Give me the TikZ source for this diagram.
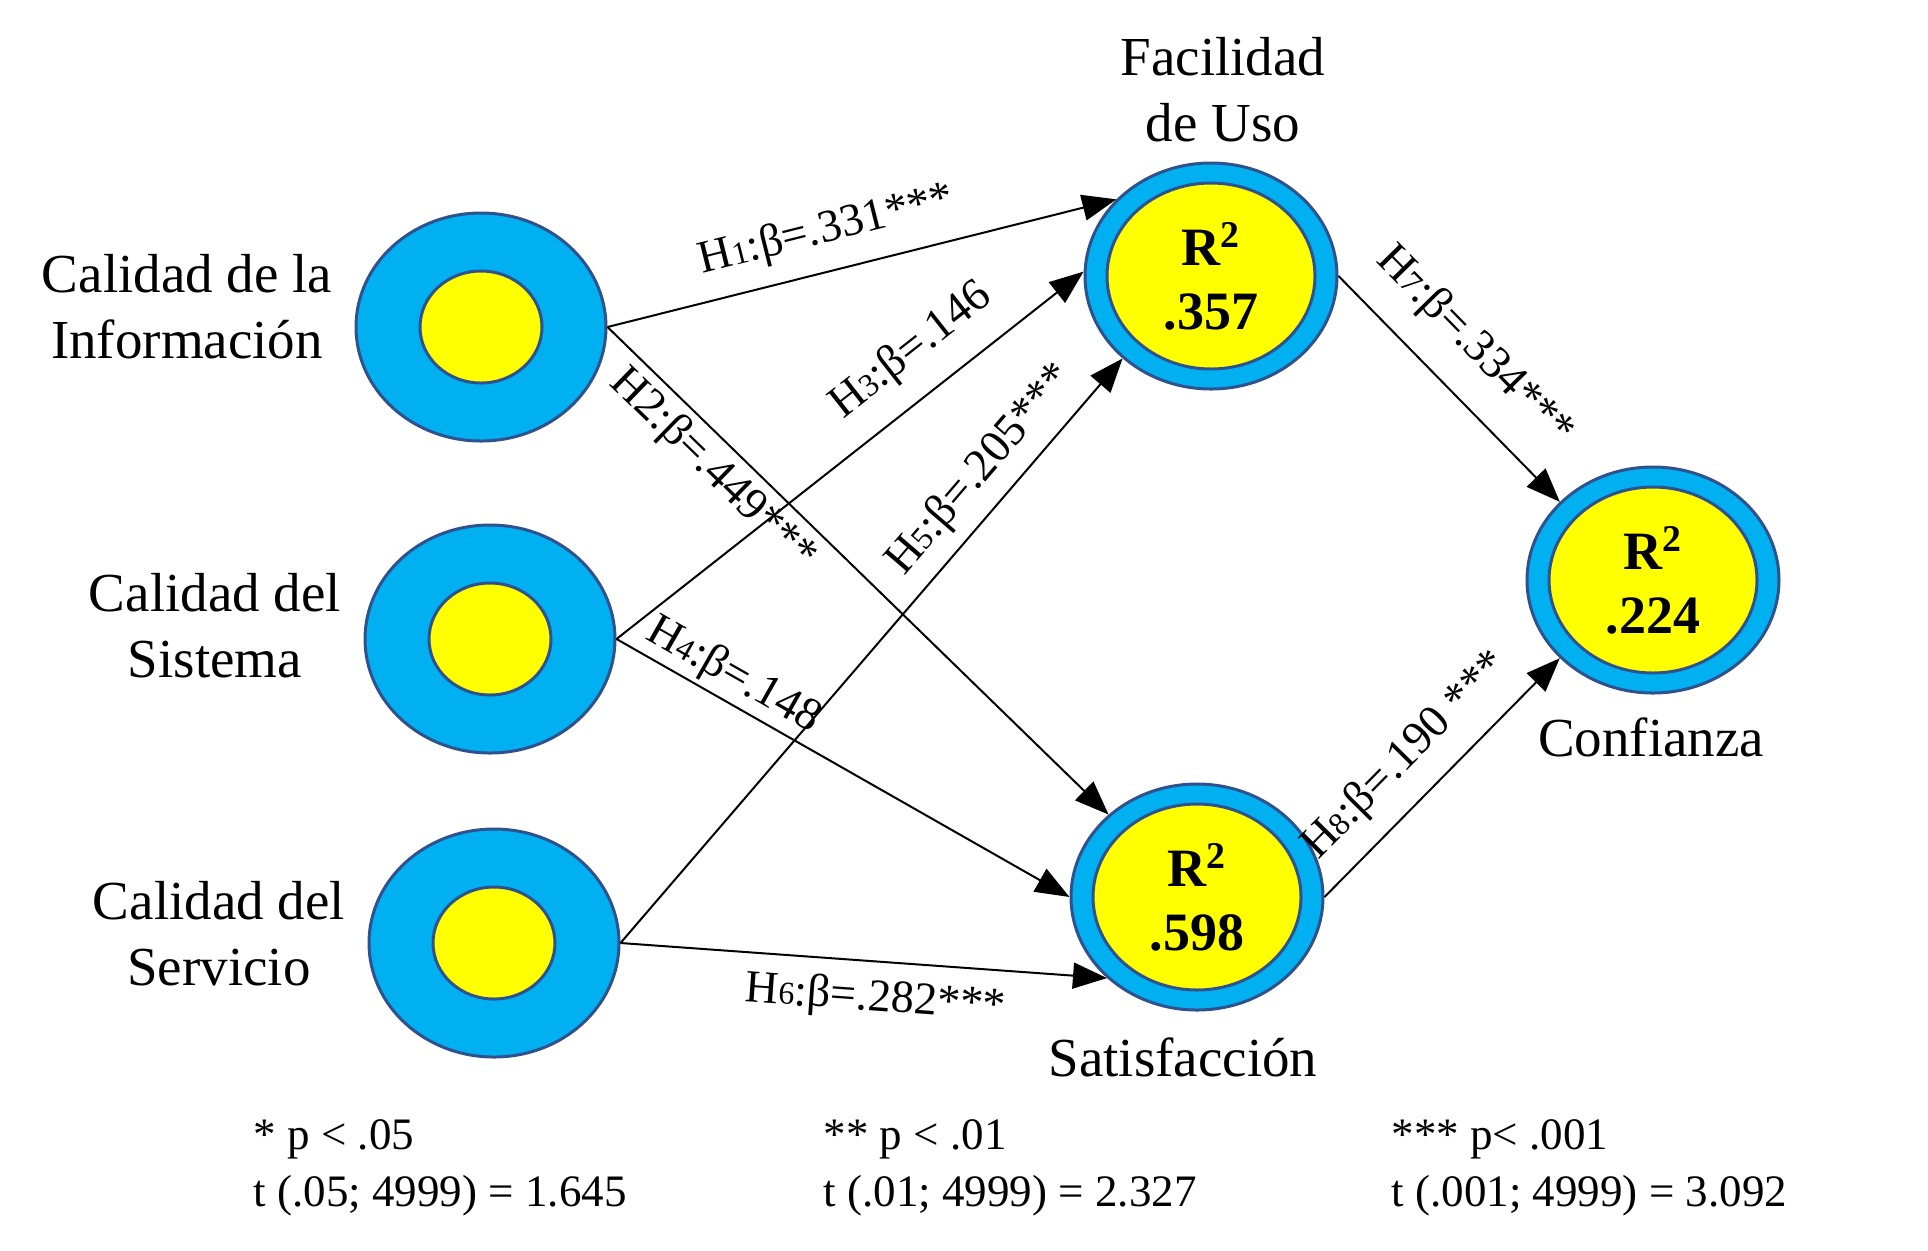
\documentclass[tikz,border=0pt]{standalone}
\usepackage{fontspec}
\setmainfont{Liberation Serif}
\usetikzlibrary{arrows.meta,shapes.geometric}
\definecolor{ringblue}{RGB}{0,176,240}
\definecolor{edgeblue}{RGB}{47,82,143}
\definecolor{coreyellow}{RGB}{255,255,0}
\newcommand{\hyp}[1]{H{\fontsize{16}{16}\selectfont #1}}

\begin{document}
\begin{tikzpicture}[x=0.5pt,y=-0.5pt,>={Triangle[length=17pt,width=13pt]},line width=1pt]
    \tikzstyle{ring}=[ellipse,draw=edgeblue,line width=1.5pt,fill=ringblue,inner sep=0pt,minimum width=125pt,minimum height=114pt]
    \tikzstyle{core}=[ellipse,draw=edgeblue,line width=1.5pt,fill=coreyellow,inner sep=0pt,minimum width=61pt,minimum height=56pt]
    \tikzstyle{rring}=[ring,minimum width=126pt,minimum height=113pt]
    \tikzstyle{rcore}=[core,minimum width=104pt,minimum height=93pt,align=center,font=\bfseries\fontsize{27}{32}\selectfont]
    \tikzstyle{varname}=[align=center,font=\fontsize{27.5}{33}\selectfont]
    \tikzstyle{coef}=[sloped,inner sep=0pt,font=\fontsize{23}{23}\selectfont]
    \tikzstyle{note}=[anchor=west,align=left,font=\fontsize{22.5}{28.5}\selectfont]
    \useasboundingbox (0,0) rectangle (1928,1250);

    % exogenous constructs
    \node[ring] (info) at (481,327) {};
    \node[core] (infoc) at (info) {};
    \node[ring] (sist) at (490,639) {};
    \node[core] (sistc) at (sist) {};
    \node[ring] (serv) at (494,943) {};
    \node[core] (servc) at (serv) {};

    % endogenous constructs
    \node[rring] (facil) at (1211,276) {};
    \node[rcore] (facilc) at (facil) {R\textsuperscript{2}\\.357};
    \node[rring] (satis) at (1197,897) {};
    \node[rcore] (satisc) at (satis) {R\textsuperscript{2}\\.598};
    \node[rring] (conf) at (1653,580) {};
    \node[rcore] (confc) at (conf) {R\textsuperscript{2}\\.224};

    \node[varname] (infolbl) at (187,307) {Calidad de la\\Información};
    \node[varname] (sistlbl) at (215,626) {Calidad del\\Sistema};
    \node[varname] (servlbl) at (219,934) {Calidad del\\Servicio};
    \node[varname] (facillbl) at (1223,90) {Facilidad\\de Uso};
    \node[varname] (satislbl) at (1183,1057) {Satisfacción};
    \node[varname] (conflbl) at (1651,737) {Confianza};

    % paths
    \draw[->] (info.east) -- node[coef,above=9pt,pos=.45] {\hyp{1}:β=.331***} (facil.141);
    \draw[->] (info.east) -- node[coef,below=3.5pt,pos=.25] {H2:β=.449***} (satis.137);
    \draw[->] (sist.east) -- node[coef,above=11pt,pos=.69] {\hyp{3}:β=.146} (facil.178);
    \draw[->] (sist.east) -- node[coef,above=2pt,pos=.23] {\hyp{4}:β=.148} (satis.180);
    \draw[->] (serv.east) -- node[coef,above=6.5pt,pos=.77] {\hyp{5}:β=.205***} (facil.223);
    \draw[->] (serv.east) -- node[coef,below=8pt,pos=.53] {\hyp{6}:β=.282***} (satis.222);
    \draw[->] (facil.east) -- node[coef,above=13pt,pos=.46] {\hyp{7}:β=.334***} (conf.140);
    \draw[->] (satis.east) -- node[coef,above=9.5pt,pos=.47] {\hyp{8}:β=.190 ***} (conf.220);

    \node[note] (sig1) at (246,1168) {* p < .05\\t (.05; 4999) = 1.645};
    \node[note] (sig2) at (816,1168) {** p < .01\\t (.01; 4999) = 2.327};
    \node[note] (sig3) at (1384,1168) {*** p< .001\\t (.001; 4999) = 3.092};
\end{tikzpicture}
\end{document}
